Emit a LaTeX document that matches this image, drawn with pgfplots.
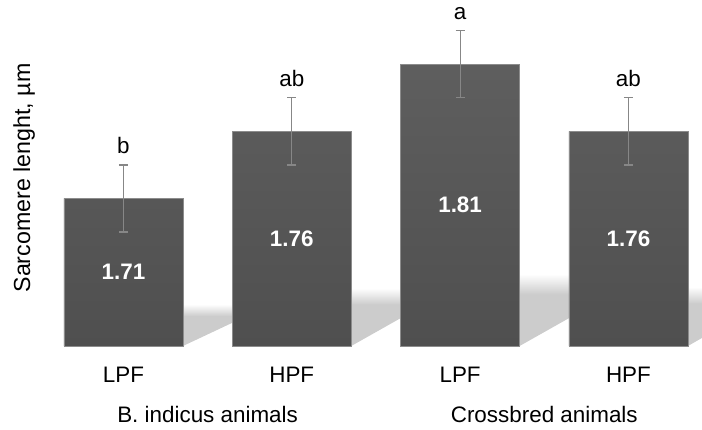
\documentclass[border=0pt]{standalone}
\usepackage{pgfplots}
\pgfplotsset{compat=1.18}
\usepackage{fontspec}
\setmainfont{Liberation Sans}
\usetikzlibrary{fadings}
\begin{tikzfadingfrompicture}[name=sfade]
  \fill[transparent!0] (-50bp,-50bp) rectangle (50bp,11bp);
  \shade[top color=transparent!100, bottom color=transparent!0] (-50bp,11bp) rectangle (50bp,25bp);
  \fill[transparent!100] (-50bp,25bp) rectangle (50bp,50bp);
\end{tikzfadingfrompicture}
\begin{document}
\fontsize{22.5}{27}\selectfont
\begin{tikzpicture}
\path[use as bounding box] (-45bp,-84bp) rectangle (657bp,346bp);
\begin{axis}[
  scale only axis,
  width=657bp, height=346bp,
  xmin=-0.466, xmax=3.437,
  ymin=1.60, ymax=1.858,
  axis line style={draw=none},
  major tick length=0pt,
  ytick=\empty,
  xtick={0,1,2,3},
  xticklabels={LPF,HPF,LPF,HPF},
  xticklabel style={anchor=base, yshift=-36bp, font=\fontsize{22.5}{27}\selectfont},
  clip=false,
]
% decorative shadows
\fill[black!20, path fading=sfade, fit fading=true] (axis cs:0.3535,1.6) -- (axis cs:0.65,1.6175) -- (axis cs:0.65,1.6310) -- (axis cs:0.3535,1.6310) -- cycle;
\fill[black!20, path fading=sfade, fit fading=true] (axis cs:1.3535,1.6) -- (axis cs:1.65,1.621) -- (axis cs:1.65,1.6430) -- (axis cs:1.3535,1.6430) -- cycle;
\fill[black!20, path fading=sfade, fit fading=true] (axis cs:2.3535,1.6) -- (axis cs:2.65,1.621) -- (axis cs:2.65,1.6535) -- (axis cs:2.3535,1.6535) -- cycle;
\fill[black!20, path fading=sfade, fit fading=true] (axis cs:3.3535,1.6) -- (axis cs:3.437,1.606) -- (axis cs:3.437,1.6440) -- (axis cs:3.3535,1.6440) -- cycle;

\addplot[ybar, bar width=0.707, bar shift=0pt,
  top color=black!63, bottom color=black!69, draw=black!45, line width=0.6bp]
  table[x=x, y=y] {
x y
0 1.71
1 1.76
2 1.81
3 1.76
};

% error bars
\addplot[draw=none, mark=none,
  error bars/.cd, y dir=both, y explicit, error mark=-,
  error bar style={draw=black!47, line width=1.2bp, solid},
  error mark options={rotate=90, draw=black!47, line width=1.2bp, mark size=4.5bp, solid}]
  table[x=x, y=y, y error=e] {
x y e
0 1.71 0.025
1 1.76 0.025
2 1.81 0.025
3 1.76 0.025
};

% value labels inside bars
\addplot[draw=none, mark=none, nodes near coords, point meta=explicit symbolic,
  nodes near coords style={anchor=center, text=white, font=\fontsize{22.5}{27}\selectfont\bfseries}]
  table[x=x, y=y, meta=lab] {
x y lab
0 1.655 1.71
1 1.680 1.76
2 1.705 1.81
3 1.680 1.76
};

% significance letters
\addplot[draw=none, mark=none, nodes near coords, point meta=explicit symbolic,
  nodes near coords style={anchor=base, yshift=11bp, text=black, font=\fontsize{22.5}{27}\selectfont}]
  table[x=x, y=y, meta=lab] {
x y lab
0 1.735 b
1 1.785 ab
2 1.835 a
3 1.785 ab
};

\node[anchor=base, font=\fontsize{22.5}{27}\selectfont] at (axis cs:0.5,1.6) [yshift=-76bp] {B. indicus animals};
\node[anchor=base, font=\fontsize{22.5}{27}\selectfont] at (axis cs:2.5,1.6) [yshift=-76bp] {Crossbred animals};
\end{axis}
\node[rotate=90, font=\fontsize{23.3}{28}\selectfont] at (-21bp,168bp) {Sarcomere lenght, µm};
\end{tikzpicture}
\end{document}
